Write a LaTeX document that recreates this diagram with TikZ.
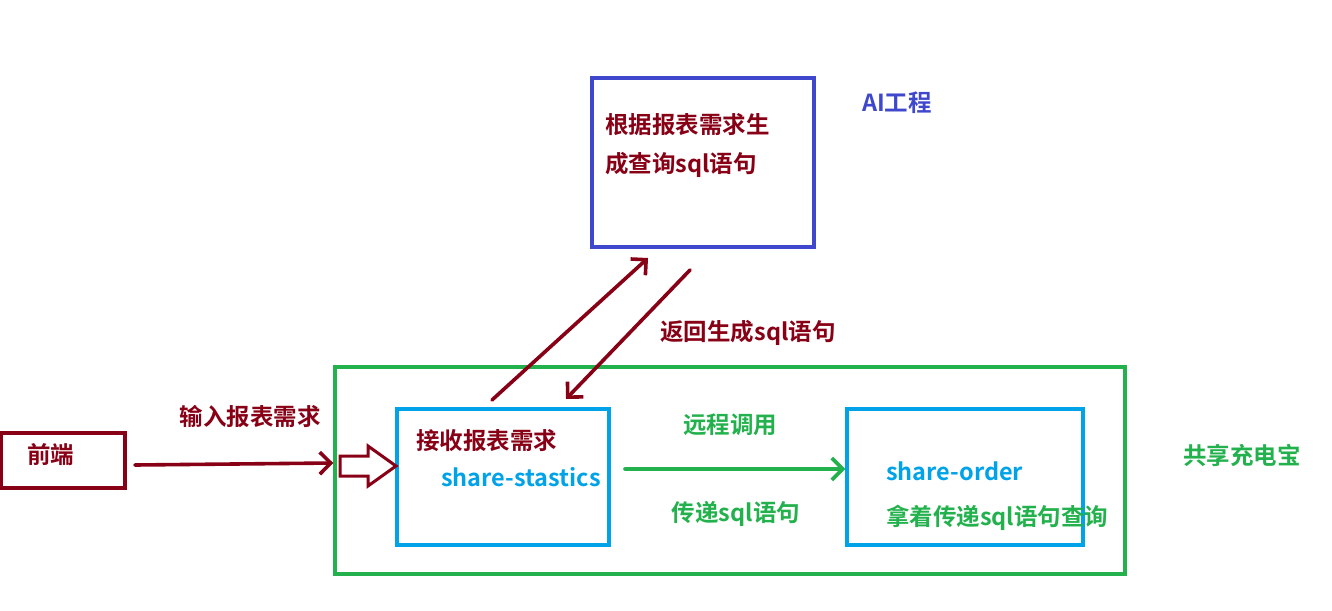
\documentclass[tikz,border=0pt]{standalone}
\usepackage{fontspec}
\setmainfont{Noto Sans CJK SC}[BoldFont={* Bold}]
\usetikzlibrary{arrows.meta}
\definecolor{dred}{RGB}{136,0,21}
\definecolor{pgreen}{RGB}{34,177,76}
\definecolor{pindigo}{RGB}{63,72,204}
\definecolor{pblue}{RGB}{0,162,232}
\begin{document}
\begin{tikzpicture}[x=1pt,y=-1pt,
  box/.style={draw,line width=3.4pt},
  lbl/.style={font=\bfseries\fontsize{23.5}{28}\selectfont,inner sep=0pt},
  barb/.style={-{Straight Barb[length=11pt,width=22pt,line width=3.6pt]},line width=3.6pt,line cap=round}]
\useasboundingbox (0,0) rectangle (1332,610);
% boxes
\node[box,dred,minimum width=124pt,minimum height=55pt] (fe) at (63,460.5) {};
\node[lbl,dred,anchor=west] at (27,455) {前端};
\node[box,pgreen,minimum width=790pt,minimum height=207pt] (outer) at (730,470.5) {};
\node[box,pblue,minimum width=212pt,minimum height=136pt] (ss) at (503,477) {};
\node[box,pblue,minimum width=236pt,minimum height=136pt] (so) at (965,477) {};
\node[box,pindigo,minimum width=222pt,minimum height=169pt] (ai) at (703,162.5) {};
% texts
\node[lbl,dred,anchor=west] at (605,125) {根据报表需求生};
\node[lbl,dred,anchor=west] at (605,165) {成查询sql语句};
\node[lbl,pindigo] at (897,103) {AI工程};
\node[lbl,pgreen] at (1242,455) {共享充电宝};
\node[lbl,dred] (lin) at (250,417) {输入报表需求};
\node[lbl,dred,anchor=west] at (416,441) {接收报表需求};
\node[lbl,pblue,anchor=west] (sst) at (441,477) {share-stastics};
\node[lbl,pgreen] at (730,425) {远程调用};
\node[lbl,pgreen] at (736,514) {传递sql语句};
\node[lbl,pblue,anchor=west] at (886,471) {share-order};
\node[lbl,pgreen,anchor=west] at (886,518) {拿着传递sql语句查询};
\node[lbl,dred] at (748,333) {返回生成sql语句};
% block arrow
\coordinate (blk) at (340,466);
\draw[dred,line width=3pt,line join=miter] (blk) ++(0,-10) -- ++(28,0) -- ++(0,-10) -- ++(28,20) -- ++(-28,20) -- ++(0,-10) -- ++(-28,0) -- cycle;
% connectors
\coordinate (a1) at (135,465);
\draw[barb,dred] (a1) -- (outer.west |- 0,463);
\coordinate (g1) at (625,469);
\draw[barb,pgreen] (g1) -- (so.west |- 0,469);
\coordinate (u1) at (492,400);
\coordinate (u2) at (648,258);
\draw[barb,dred] (u1) -- (u2);
\coordinate (d1) at (690,270);
\coordinate (d2) at (566,399);
\draw[barb,dred] (d1) -- (d2);
\end{tikzpicture}
\end{document}
